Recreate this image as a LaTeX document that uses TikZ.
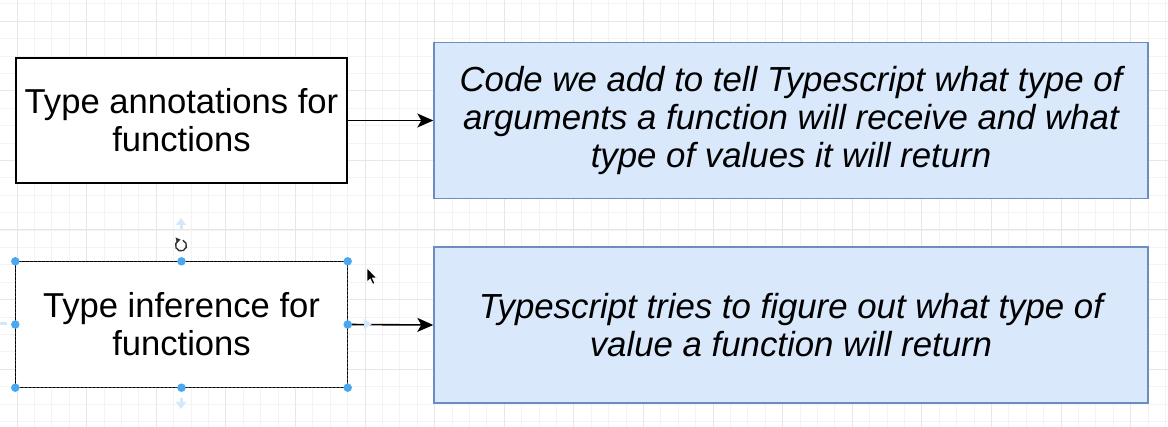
\documentclass[tikz,border=0pt]{standalone}
\usepackage{fontspec}
\setmainfont{Liberation Sans}
\usetikzlibrary{arrows.meta}
\definecolor{gridminor}{HTML}{F3F3F3}
\definecolor{gridmajor}{HTML}{E7E7E7}
\definecolor{notefill}{HTML}{DAE8FC}
\definecolor{notedraw}{HTML}{6C8EBF}
\definecolor{handle}{HTML}{4AA8F0}
\definecolor{hint}{HTML}{D3E8FA}
\tikzset{
  termbox/.style={draw=black, fill=white, line width=1.4pt, minimum width=331pt,
    minimum height=125pt, inner sep=0pt, align=center,
    font=\fontsize{34.6}{38}\selectfont},
  notebox/.style={draw=notedraw, fill=notefill, line width=1.4pt, minimum width=714pt,
    minimum height=156pt, inner sep=0pt, align=center,
    font=\fontsize{34.8}{38}\selectfont\itshape},
  link/.style={draw=black, line width=1.6pt, -{Stealth[length=16pt,width=14pt,inset=4pt]}},
  selhandle/.style={circle, fill=handle, inner sep=0pt, minimum size=8.5pt},
  hintarrow/.style={draw=hint, line width=3pt, -{Triangle[length=7pt,width=10pt]}},
}
\begin{document}
\begin{tikzpicture}[x=1pt,y=-1pt]
\useasboundingbox (0,0) rectangle (1168,427);
\fill[white] (0,0) rectangle (1168,427);
% background grid
\foreach \i in {0,...,68} {
  \draw[gridminor, line width=0.8pt] ({17+17.4*(\i-1)},0) -- ++(0,427);
}
\foreach \j in {0,...,25} {
  \draw[gridminor, line width=0.8pt] (0,{21.2+17.4*(\j-2)}) -- ++(1168,0);
}
\foreach \i in {0,...,17} {
  \draw[gridmajor, line width=1pt] ({17+69.6*\i},0) -- ++(0,427);
}
\foreach \j in {0,...,6} {
  \draw[gridmajor, line width=1pt] (0,{21.2+69.6*\j}) -- ++(1168,0);
}

% boxes
\node[termbox] (ann) at (181.5,120.5) {Type annotations for\\functions};
\node[notebox] (anndef) at (791,120.5) {Code we add to tell Typescript what type of\\arguments a function will receive and what\\type of values it will return};
\node[termbox, draw=none] (inf) at (181.5,324.5) {Type inference for\\functions};
\node[notebox] (infdef) at (791,325) {Typescript tries to figure out what type of\\value a function will return};

% selection outline of the second term box
\draw[black!75, line width=1.2pt] (inf.north west) rectangle (inf.south east);
\draw[black, line width=1.2pt, dash pattern=on 2.5pt off 1.5pt] (inf.north west) rectangle (inf.south east);

% connectors
\draw[link] (ann.east) -- (anndef.west);
\draw[link] (inf.east) -- (infdef.west);

% faint connection hints around the selected box
\coordinate (hup) at (181,229);
\coordinate (hdown) at (181,398);
\draw[hintarrow] (hup) -- ++(0,-11);
\draw[hintarrow] (hdown) -- ++(0,11);
\draw[hint, line width=3pt] (0,324) -- (7,324);
\fill[hint] (364,319) -- (372,324) -- (364,329) -- cycle;

% selection handles
\foreach \a in {north west, north, north east, west, east, south west, south, south east} {
  \node[selhandle] at (inf.\a) {};
}

% rotate handle
\coordinate (rot) at (181,245.5);
\draw[black!80, line width=1.4pt] (rot) ++(70:5.5pt) arc[start angle=70, end angle=-230, radius=5.5pt];
\fill[black!80] (rot) ++(-5.5,-8) -- ++(5,2) -- ++(-3.5,3.8) -- cycle;

% mouse pointer
\coordinate (cur) at (367,268);
\filldraw[fill=black, draw=white, line width=0.6pt, line join=round]
  (cur) -- ++(0,14) -- ++(3.2,-3.2) -- ++(2.6,5.5) -- ++(2,-1) -- ++(-2.5,-5.3) -- ++(4.5,0) -- cycle;
\end{tikzpicture}
\end{document}
